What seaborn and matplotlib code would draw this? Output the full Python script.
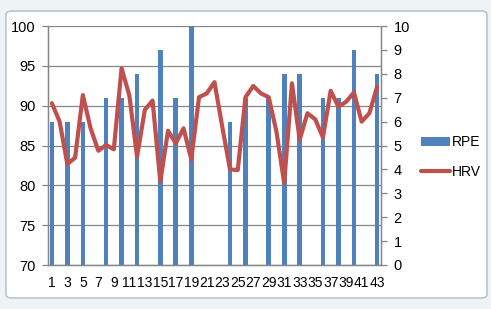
import numpy as np
import pandas as pd
import matplotlib
matplotlib.use("Agg")
import matplotlib.pyplot as plt
import seaborn as sns
from matplotlib.patches import FancyBboxPatch

days = list(range(1, 44))
rpe_days = [1, 3, 5, 8, 10, 12, 15, 17, 19, 24, 26, 29, 31, 33, 36, 38, 40, 43]
rpe_vals = [88, 88, 88, 91, 91, 94, 97, 91, 100, 88, 91, 91, 94, 94, 91, 91, 97, 94]
hrv = [6.77, 6.0, 4.22, 4.49, 7.11, 5.72, 4.78, 5.02, 4.84, 8.23,
       7.1, 4.53, 6.49, 6.88, 3.49, 5.62, 5.09, 5.72, 4.42, 7.02,
       7.18, 7.65, 5.79, 4.0, 3.97, 7.02, 7.49, 7.18, 7.02, 5.58,
       3.42, 7.6, 5.25, 6.35, 6.1, 5.34, 7.29, 6.62, 6.83, 7.22,
       6.0, 6.35, 7.46]
x_labels = [str(d) if d % 2 == 1 else "" for d in days]

rpe_map = dict(zip(rpe_days, rpe_vals))
df = pd.DataFrame({
    "day": days,
    "pos": np.arange(len(days)),
    "RPE": [rpe_map.get(d, np.nan) for d in days],
    "HRV": hrv,
})

sns.set_theme(style="white")
plt.rcParams["font.family"] = ["Liberation Sans", "DejaVu Sans"]

W, H = 491, 309
fig = plt.figure(figsize=(W / 100, H / 100), dpi=100)
fig.patch.set_facecolor("#EEF3F6")
frame = FancyBboxPatch((6 / W, 11 / H), (487 - 6) / W, (298 - 11) / H,
                       boxstyle="round,pad=0,rounding_size=0.012",
                       transform=fig.transFigure, facecolor="white",
                       edgecolor="#B9C6CF", linewidth=1.2, zorder=-10)
fig.patches.append(frame)

ax = fig.add_axes([48 / W, 1 - 265 / H, (381 - 48) / W, (265 - 26) / H])
ax.set_zorder(1)
ax.set_facecolor("none")

sns.barplot(data=df, x="day", y="RPE", color="#4F81BD", width=0.6,
            saturation=1, ax=ax, zorder=2, label="RPE",
            edgecolor="none", linewidth=0)
ax.set_ylim(70, 100)
ax.set_xlim(-0.5, len(days) - 0.5)
ax.set_yticks(range(70, 101, 5))
ax.yaxis.grid(True, color="#868686", linewidth=0.9)
ax.set_axisbelow(True)

ax2 = ax.twinx()
ax2.set_zorder(2)
ax2.set_facecolor("none")
sns.lineplot(data=df, x="pos", y="HRV", color="#C0504D", linewidth=3.0,
             ax=ax2, zorder=3, label="HRV")
ax2.set_ylim(0, 10)
ax2.set_yticks(range(0, 11))
ax2.set_xlim(-0.5, len(days) - 0.5)

ax.set_xticks(np.arange(len(days)))
ax.set_xticklabels(x_labels)
ax.set_xticks(np.arange(-0.5, len(days), 1), minor=True)
ax.tick_params(axis="x", which="major", length=0, labelsize=10, pad=8, colors="black")
ax.tick_params(axis="x", which="minor", length=4, width=0.9, color="#868686", direction="out")
ax.tick_params(axis="y", length=4, width=0.9, color="#868686", direction="out",
               labelsize=10.5, pad=5, labelcolor="black")
ax2.tick_params(axis="y", length=4, width=0.9, color="#868686", direction="out",
                labelsize=10.5, pad=5, labelcolor="black")
ax.set_xlabel("")
ax.set_ylabel("")
ax2.set_ylabel("")
ax2.set_xlabel("")

for a in (ax, ax2):
    a.spines["top"].set_visible(False)
    for s in ("left", "right", "bottom"):
        a.spines[s].set_color("#868686")
        a.spines[s].set_linewidth(0.9)

h1, l1 = ax.get_legend_handles_labels()
h2, l2 = ax2.get_legend_handles_labels()
if ax.get_legend():
    ax.get_legend().remove()
if ax2.get_legend():
    ax2.get_legend().remove()
leg = fig.legend(h1 + h2, l1 + l2, loc="center left",
                 bbox_to_anchor=(408 / W, 1 - 157 / H), frameon=False,
                 fontsize=10, handlelength=2.1, handletextpad=0.15,
                 labelspacing=1.1)
for t in leg.get_texts():
    t.set_color("black")

fig.savefig("out.png", dpi=100)
